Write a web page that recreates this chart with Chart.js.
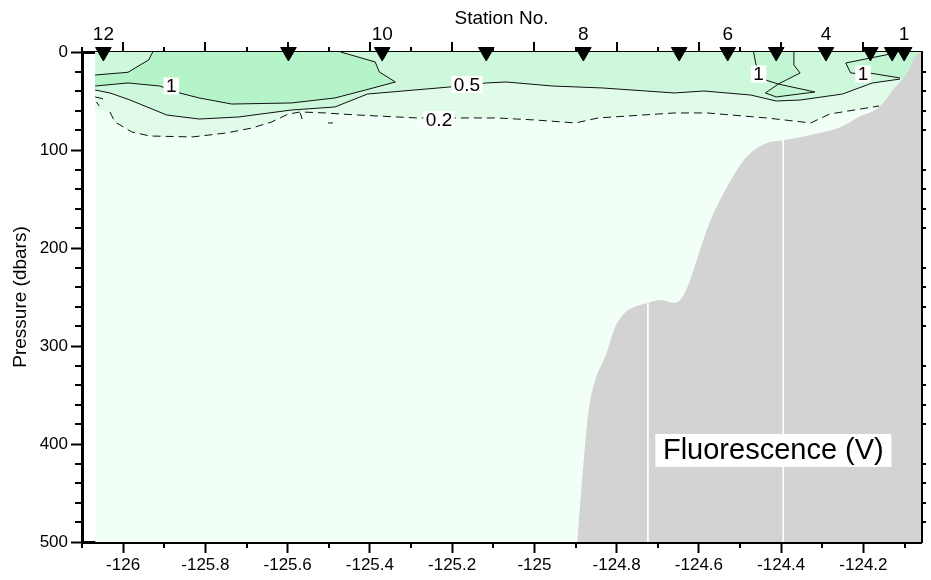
<!DOCTYPE html>
<html>
<head>
<meta charset="utf-8">
<script src="https://cdn.jsdelivr.net/npm/chart.js@4.4.1/dist/chart.umd.min.js"></script>
<style>
  html, body { margin: 0; padding: 0; background: #fff; }
  #wrap { width: 931px; height: 580px; }
</style>
</head>
<body>
<div id="wrap"><canvas id="chart" width="931" height="580"></canvas></div>
<script>
// Axis ranges and ticks
const lonMin = -126.1, lonMax = -124.06;
const xTicks = [-126, -125.8, -125.6, -125.4, -125.2, -125, -124.8, -124.6, -124.4, -124.2];
const xMinorTicks = [-126.1, -125.9, -125.7, -125.5, -125.3, -125.1, -124.9, -124.7, -124.5, -124.3, -124.1];
const yTicks = [0, 100, 200, 300, 400, 500];
const yMinorTicks = [20, 40, 60, 80, 120, 140, 160, 180, 220, 240, 260, 280, 320, 340, 360, 380, 420, 440, 460, 480];

// Stations (top axis)
const stationNo = [12, 11, 10, 9, 8, 7, 6, 5, 4, 3, 2, 1];
const stationLon = [-126.048, -125.598, -125.370, -125.117, -124.881, -124.648, -124.530, -124.412, -124.291, -124.183, -124.130, -124.101];
const labeledStations = [12, 10, 8, 6, 4, 1];

// western edge of the gridded field
const fieldWest = -126.068;

// Bottom topography [lon, pressure]
const bottomDepth = [
  [-124.896, 500], [-124.884, 437], [-124.869, 368], [-124.852, 335], [-124.828, 311],
  [-124.804, 281], [-124.780, 266], [-124.756, 260], [-124.725, 256], [-124.691, 253],
  [-124.660, 256], [-124.640, 250], [-124.619, 230], [-124.595, 199], [-124.571, 171],
  [-124.532, 138], [-124.484, 107], [-124.436, 93], [-124.395, 90], [-124.354, 87],
  [-124.299, 82], [-124.258, 77], [-124.210, 66], [-124.162, 56], [-124.123, 36],
  [-124.089, 18], [-124.075, 5], [-124.065, 1], [-124.06, 0]
];
// cast gaps showing in the bottom fill
const castLon = [-124.724, -124.395];
const castTop = [256, 90];

// Contours [lon, pressure]
const c1West = [[-126.068, 23.5], [-125.988, 20.7], [-125.959, 13.3], [-125.938, 8.2], [-125.928, 0]];
const c1Main = [
  [-126.068, 34.7], [-125.988, 31.6], [-125.911, 34.7], [-125.863, 41.8], [-125.815, 46.9],
  [-125.736, 53.1], [-125.591, 52.0], [-125.485, 46.9], [-125.411, 38.8], [-125.338, 30.6],
  [-125.377, 20.4], [-125.387, 10.2], [-125.471, 0]
];
const c05 = [
  [-126.068, 38.8], [-126.032, 41.8], [-125.983, 49.0], [-125.894, 64.3], [-125.815, 68.4],
  [-125.719, 66.3], [-125.591, 59.2], [-125.485, 56.1], [-125.406, 42.9], [-125.206, 35.7],
  [-125.117, 31.6], [-125.069, 30.6], [-124.956, 34.7], [-124.835, 36.7], [-124.660, 41.8],
  [-124.588, 39.8], [-124.474, 43.9], [-124.412, 50.0], [-124.354, 49.0], [-124.251, 42.9],
  [-124.178, 31.6], [-124.111, 27.6]
];
const c1Mid = [
  [-124.467, 0], [-124.462, 11.2], [-124.455, 22.4], [-124.438, 28.6], [-124.407, 32.7],
  [-124.318, 40.8], [-124.412, 45.9], [-124.438, 41.8], [-124.407, 32.7], [-124.354, 21.4],
  [-124.369, 13.3], [-124.369, 0]
];
const c1East = [
  [-124.118, 0], [-124.147, 3.1], [-124.243, 11.2], [-124.231, 21.4], [-124.202, 22.4],
  [-124.186, 21.4], [-124.111, 26.5]
];
const c02 = [
  [-126.032, 61.2], [-126.020, 71.4], [-125.995, 77.6], [-125.979, 81.6], [-125.935, 85.7],
  [-125.832, 86.7], [-125.750, 82.7], [-125.687, 77.6], [-125.639, 71.4], [-125.598, 63.3],
  [-125.569, 61.2], [-125.509, 62.2], [-125.430, 64.3], [-125.285, 67.3], [-125.093, 67.3],
  [-124.997, 69.4], [-124.900, 72.4], [-124.845, 67.3], [-124.660, 62.2], [-124.580, 62.2],
  [-124.436, 67.3], [-124.328, 72.4], [-124.282, 63.3], [-124.162, 55.1]
];
const c02Bits = [
  [[-126.068, 45.9], [-126.046, 48.0], [-126.041, 51.0]],
  [[-126.065, 51.0], [-126.058, 55.1]],
  [[-125.569, 62.2], [-125.565, 68.4]],
  [[-125.502, 72.4], [-125.490, 72.4]]
];

// Contour labels
const contourLabelText = ['1', '0.5', '0.2', '1', '1'];
const contourLabelLon = [-125.883, -125.164, -125.232, -124.455, -124.201];
const contourLabelP = [34.7, 33.2, 68.9, 22.4, 22.4];

const panelTitle = 'Fluorescence (V)';
const panelTitleLon = -124.419, panelTitleP = 406.6;

const FONT = '"Liberation Sans", Arial, Helvetica, sans-serif';
Chart.defaults.font.family = FONT;
Chart.defaults.color = '#000';

const toXY = arr => arr.map(([x, y]) => ({ x, y }));

// shading bands built from the contours
const band02 = [[fieldWest, 0], [fieldWest, 58], ...c02, [-124.12, 36], [lonMax, 0]];
const band05 = [[fieldWest, 0], ...c05, [lonMax, 27.6], [lonMax, 0]];
const band1 = [...c1West, ...c1Main.slice().reverse()];
const bandEast = [...c1East, [lonMax, 26.5], [lonMax, 0]];

const layers = [];
function shade(points, color) {
  layers.push({ data: toXY(points), fill: 'shape', backgroundColor: color,
    borderColor: 'transparent', borderWidth: 0, pointRadius: 0 });
}
function contour(points, dashed) {
  layers.push({ data: toXY(points), fill: false, borderColor: '#111', borderWidth: 1,
    borderDash: dashed ? [8, 5] : [], pointRadius: 0 });
}

// field background
layers.push({ data: toXY([[fieldWest, 500], [lonMax, 500]]), fill: 'end',
  backgroundColor: '#f2fff7', borderColor: 'transparent', borderWidth: 0, pointRadius: 0 });
shade(band02, '#e0fbe8');
shade(band05, '#cdf8db');
shade(band1, '#b4f4c8');
shade(c1Mid, '#c2f6d2');
shade(bandEast, '#c2f6d2');

// bottom
layers.push({ data: toXY(bottomDepth), fill: 'start', backgroundColor: '#d3d3d3',
  borderColor: 'transparent', borderWidth: 0, pointRadius: 0, cubicInterpolationMode: 'monotone' });
castLon.forEach((lon, i) => {
  layers.push({ data: toXY([[lon, castTop[i]], [lon, 500]]), fill: false,
    borderColor: '#ffffff', borderWidth: 1, pointRadius: 0 });
});

contour(c1West); contour(c1Main); contour(c05); contour(c1Mid); contour(c1East);
contour(c02, true);
c02Bits.forEach(b => contour(b, true));

// station markers
layers.push({ data: stationLon.map(lon => ({ x: lon, y: 0 })), showLine: false,
  pointStyle: 'triangle', rotation: 180, pointRadius: 9, pointHoverRadius: 9,
  pointBackgroundColor: '#000', pointBorderColor: '#000', pointBorderWidth: 1, clip: false });

layers.forEach((d, i) => { d.order = layers.length - i; });

const extraTicks = {
  id: 'extraTicks',
  afterDraw(chart) {
    const { ctx, chartArea: a, scales: { x, y } } = chart;
    ctx.save();
    ctx.strokeStyle = '#000';
    ctx.lineWidth = 2;
    ctx.beginPath();
    xMinorTicks.forEach(v => {
      const px = Math.round(x.getPixelForValue(v));
      ctx.moveTo(px, a.bottom); ctx.lineTo(px, a.bottom + 6);
      ctx.moveTo(px, a.top); ctx.lineTo(px, a.top - 5);
    });
    xTicks.forEach(v => {
      const px = Math.round(x.getPixelForValue(v));
      ctx.moveTo(px, a.top); ctx.lineTo(px, a.top - 10);
    });
    yMinorTicks.forEach(v => {
      const py = Math.round(y.getPixelForValue(v));
      ctx.moveTo(a.left, py); ctx.lineTo(a.left - 7, py);
      ctx.moveTo(a.right, py); ctx.lineTo(a.right + 5, py);
    });
    ctx.stroke();
    ctx.restore();
  }
};

const labels = {
  id: 'labels',
  afterDatasetsDraw(chart) {
    const { ctx, scales: { x, y } } = chart;
    ctx.save();
    ctx.textAlign = 'center';
    ctx.textBaseline = 'middle';
    ctx.font = '19px ' + FONT;
    contourLabelText.forEach((t, i) => {
      const px = x.getPixelForValue(contourLabelLon[i]);
      const py = y.getPixelForValue(contourLabelP[i]);
      const w = ctx.measureText(t).width + 5;
      ctx.fillStyle = '#fff';
      ctx.fillRect(px - w / 2, py - 8.5, w, 17);
      ctx.fillStyle = '#000';
      ctx.fillText(t, px, py + 1);
    });
    ctx.font = '29px ' + FONT;
    const px = x.getPixelForValue(panelTitleLon);
    const py = y.getPixelForValue(panelTitleP);
    ctx.fillStyle = '#fff';
    ctx.fillRect(px - 118, py - 16.5, 236, 33);
    ctx.fillStyle = '#000';
    ctx.fillText(panelTitle, px, py + 1);
    ctx.restore();
  }
};

new Chart(document.getElementById('chart'), {
  type: 'line',
  data: { datasets: layers },
  plugins: [extraTicks, labels],
  options: {
    responsive: false,
    animation: false,
    devicePixelRatio: 1,
    layout: { padding: 0 },
    plugins: { legend: { display: false }, tooltip: { enabled: false } },
    scales: {
      x: {
        type: 'linear', position: 'bottom', min: lonMin, max: lonMax,
        afterBuildTicks: s => { s.ticks = xTicks.map(v => ({ value: v })); },
        afterFit: s => { s.height = 38; },
        ticks: { font: { size: 17 }, padding: 2, maxRotation: 0, autoSkip: false,
          callback: v => String(Math.round(v * 10) / 10) },
        grid: { drawOnChartArea: false, tickLength: 11, tickWidth: 2, tickColor: '#000' },
        border: { display: true, width: 3, color: '#000' }
      },
      x2: {
        type: 'linear', position: 'top', min: lonMin, max: lonMax,
        afterBuildTicks: s => {
          s.ticks = labeledStations.map(n => ({ value: stationLon[stationNo.indexOf(n)] }));
        },
        afterFit: s => { s.height = 52; },
        ticks: { font: { size: 19 }, padding: 6, maxRotation: 0, autoSkip: false,
          callback: (v, i) => String(labeledStations[i]) },
        grid: { drawOnChartArea: false, drawTicks: false },
        border: { display: true, width: 3, color: '#000' },
        title: { display: true, text: 'Station No.', font: { size: 19 }, padding: { top: 7, bottom: 0 } }
      },
      y: {
        type: 'linear', position: 'left', min: 0, max: 500, reverse: true,
        afterBuildTicks: s => { s.ticks = yTicks.map(v => ({ value: v })); },
        afterFit: s => { s.width = 82; },
        ticks: { font: { size: 17 }, padding: 3 },
        grid: { drawOnChartArea: false, tickLength: 11, tickWidth: 2, tickColor: '#000' },
        border: { display: true, width: 3, color: '#000' },
        title: { display: true, text: 'Pressure (dbars)', font: { size: 19 }, padding: { top: 9, bottom: 0 } }
      },
      y2: {
        type: 'linear', position: 'right', min: 0, max: 500, reverse: true,
        afterFit: s => { s.width = 2; },
        ticks: { display: false },
        grid: { drawOnChartArea: false, drawTicks: false },
        border: { display: true, width: 3, color: '#000' }
      }
    }
  }
});
</script>
</body>
</html>
